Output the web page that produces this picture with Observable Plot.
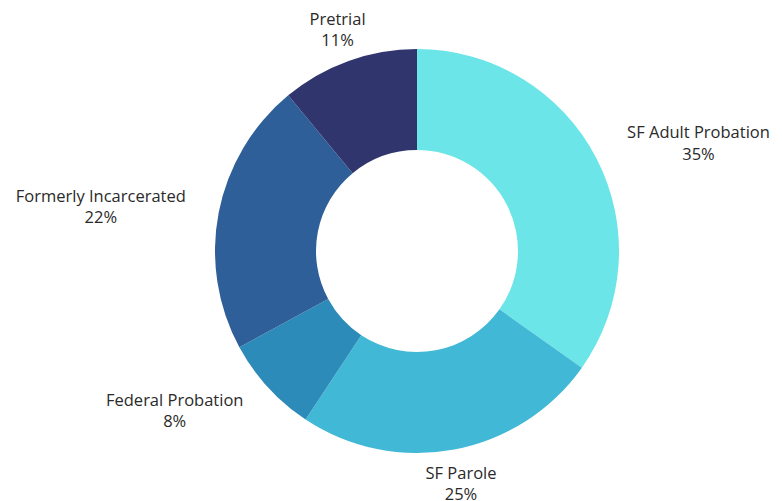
<!DOCTYPE html>
<html><head><meta charset="utf-8">
<script src="https://cdn.jsdelivr.net/npm/d3@7"></script>
<script src="https://cdn.jsdelivr.net/npm/@observablehq/plot@0.6"></script>
<style>html,body{margin:0;padding:0;background:#fff}</style>
</head><body><div id="chart"></div>
<script>
// ---- data ----
const categories = ["SF Adult Probation", "SF Parole", "Federal Probation", "Formerly Incarcerated", "Pretrial"];
const shares = [34.8, 24.5, 7.8, 21.9, 11.0];
const pctLabels = ["35%", "25%", "8%", "22%", "11%"];
const colors = ["#6CE5E8", "#41B8D5", "#2D8BBA", "#2F5F98", "#31356E"];

// ---- layout ----
const OUTER = 202, INNER = 101, LABEL_R = 236;
const FONT_SIZE = 16.5;
const FONT = "'Open Sans', sans-serif";

const ctx = document.createElement("canvas").getContext("2d");
ctx.font = `${FONT_SIZE}px ${FONT}`;
const blockWidth = lines => Math.max(...lines.map(l => ctx.measureText(l).width));

const data = categories.map((c, i) => ({category: c, share: shares[i], pct: pctLabels[i]}));
const arcs = d3.pie().sort(null).value(d => d.share)(data);
const rows = arcs.map(a => {
  const mid = (a.startAngle + a.endAngle) / 2;
  const s = Math.sin(mid);
  const dir = Math.abs(s) < 0.4 ? 0 : Math.sign(s);
  const w = blockWidth([a.data.category, a.data.pct]);
  return {
    ...a.data,
    startAngle: a.startAngle,
    endAngle: a.endAngle,
    lx: LABEL_R * s + dir * w / 2,
    ly: LABEL_R * Math.cos(mid)
  };
});

const chart = Plot.plot({
  width: 782, height: 501,
  margin: 0,
  x: {type: "linear", domain: [-417, 365], axis: null},
  y: {type: "linear", domain: [-250, 251], axis: null},
  color: {domain: categories, range: colors},
  style: {fontFamily: FONT, background: "#fff"},
  marks: [
    Plot.dot(rows, {
      x: () => 0, y: () => 0, fill: "category",
      render(index, scales, values) {
        const cx = scales.x(0), cy = scales.y(0);
        const k = Math.abs(scales.x(1) - scales.x(0));
        const arc = d3.arc().innerRadius(INNER * k).outerRadius(OUTER * k);
        const g = d3.create("svg:g").attr("transform", `translate(${cx},${cy})`);
        for (const i of index) {
          g.append("path")
            .attr("d", arc({startAngle: rows[i].startAngle, endAngle: rows[i].endAngle}))
            .attr("fill", values.fill[i]);
        }
        return g.node();
      }
    }),
    Plot.text(rows, {
      x: "lx", y: "ly",
      text: d => d.category + "\n" + d.pct,
      textAnchor: "middle", lineAnchor: "middle", lineHeight: 1.3,
      fontSize: FONT_SIZE, fill: "#2a2a2a", dy: -1
    })
  ]
});
document.getElementById("chart").append(chart);
</script>
</body></html>
